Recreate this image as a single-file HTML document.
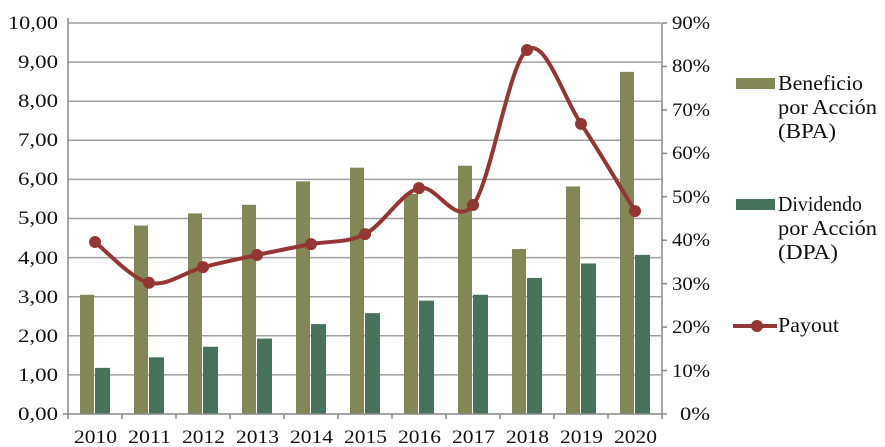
<!DOCTYPE html>
<html><head><meta charset="utf-8"><style>
html,body{margin:0;padding:0;background:#fff;}
svg{display:block;font-family:"Liberation Serif",serif;}
</style></head><body>
<svg width="885" height="447" viewBox="0 0 885 447">
<g stroke="#a0a0a0" stroke-width="1.5">
<line x1="68" y1="23" x2="661" y2="23"/><line x1="68" y1="62.1" x2="661" y2="62.1"/><line x1="68" y1="101.2" x2="661" y2="101.2"/><line x1="68" y1="140.3" x2="661" y2="140.3"/><line x1="68" y1="179.4" x2="661" y2="179.4"/><line x1="68" y1="218.5" x2="661" y2="218.5"/><line x1="68" y1="257.6" x2="661" y2="257.6"/><line x1="68" y1="296.7" x2="661" y2="296.7"/><line x1="68" y1="335.8" x2="661" y2="335.8"/><line x1="68" y1="374.9" x2="661" y2="374.9"/>
</g>
<g id="bars"></g>
<g stroke="#888" stroke-width="1.5" fill="none">
<line x1="68" y1="18" x2="68" y2="414"/><line x1="63" y1="414" x2="662" y2="414"/>
<line x1="662" y1="23" x2="662" y2="414"/>
</g>
<g id="ticks" stroke="#888" stroke-width="1.5"></g>
<path id="curve" fill="none" stroke="#943634" stroke-width="4"/>
<g id="dots" fill="#943634"></g>
<g font-size="19" fill="#111">
<text x="8" y="29" textLength="50" lengthAdjust="spacingAndGlyphs">10,00</text>
<text x="18" y="68" textLength="40" lengthAdjust="spacingAndGlyphs">9,00</text>
<text x="18" y="107" textLength="40" lengthAdjust="spacingAndGlyphs">8,00</text>
<text x="18" y="146" textLength="40" lengthAdjust="spacingAndGlyphs">7,00</text>
<text x="18" y="185" textLength="40" lengthAdjust="spacingAndGlyphs">6,00</text>
<text x="18" y="224" textLength="40" lengthAdjust="spacingAndGlyphs">5,00</text>
<text x="18" y="264" textLength="40" lengthAdjust="spacingAndGlyphs">4,00</text>
<text x="18" y="303" textLength="40" lengthAdjust="spacingAndGlyphs">3,00</text>
<text x="18" y="342" textLength="40" lengthAdjust="spacingAndGlyphs">2,00</text>
<text x="18" y="381" textLength="40" lengthAdjust="spacingAndGlyphs">1,00</text>
<text x="18" y="420" textLength="40" lengthAdjust="spacingAndGlyphs">0,00</text>
</g>
<g font-size="19" fill="#111">
<text x="672" y="29" textLength="38" lengthAdjust="spacingAndGlyphs">90%</text>
<text x="672" y="72" textLength="38" lengthAdjust="spacingAndGlyphs">80%</text>
<text x="672" y="116" textLength="38" lengthAdjust="spacingAndGlyphs">70%</text>
<text x="672" y="159" textLength="38" lengthAdjust="spacingAndGlyphs">60%</text>
<text x="672" y="203" textLength="38" lengthAdjust="spacingAndGlyphs">50%</text>
<text x="672" y="246" textLength="38" lengthAdjust="spacingAndGlyphs">40%</text>
<text x="672" y="290" textLength="38" lengthAdjust="spacingAndGlyphs">30%</text>
<text x="672" y="333" textLength="38" lengthAdjust="spacingAndGlyphs">20%</text>
<text x="672" y="377" textLength="38" lengthAdjust="spacingAndGlyphs">10%</text>
<text x="680" y="420" textLength="30" lengthAdjust="spacingAndGlyphs">0%</text>
</g>
<g font-size="19" fill="#111">
<text x="74" y="443" textLength="43" lengthAdjust="spacingAndGlyphs">2010</text>
<text x="128" y="443" textLength="43" lengthAdjust="spacingAndGlyphs">2011</text>
<text x="182" y="443" textLength="43" lengthAdjust="spacingAndGlyphs">2012</text>
<text x="236" y="443" textLength="43" lengthAdjust="spacingAndGlyphs">2013</text>
<text x="290" y="443" textLength="43" lengthAdjust="spacingAndGlyphs">2014</text>
<text x="344" y="443" textLength="43" lengthAdjust="spacingAndGlyphs">2015</text>
<text x="398" y="443" textLength="43" lengthAdjust="spacingAndGlyphs">2016</text>
<text x="452" y="443" textLength="43" lengthAdjust="spacingAndGlyphs">2017</text>
<text x="506" y="443" textLength="43" lengthAdjust="spacingAndGlyphs">2018</text>
<text x="560" y="443" textLength="43" lengthAdjust="spacingAndGlyphs">2019</text>
<text x="614" y="443" textLength="43" lengthAdjust="spacingAndGlyphs">2020</text>
</g>
<rect x="736" y="78" width="39" height="11" fill="#828755"/>
<rect x="736" y="199" width="39" height="11" fill="#47725c"/>
<line x1="733" y1="326" x2="777" y2="326" stroke="#943634" stroke-width="4"/>
<circle cx="757" cy="326" r="6" fill="#943634"/>
<g font-size="21" fill="#111">
<text x="778" y="90" textLength="85" lengthAdjust="spacingAndGlyphs">Beneficio</text>
<text x="778" y="114" textLength="99" lengthAdjust="spacingAndGlyphs">por Acción</text>
<text x="778" y="138" textLength="58" lengthAdjust="spacingAndGlyphs">(BPA)</text>
<text x="778" y="211" textLength="84" lengthAdjust="spacingAndGlyphs">Dividendo</text>
<text x="778" y="235" textLength="99" lengthAdjust="spacingAndGlyphs">por Acción</text>
<text x="778" y="259" textLength="60" lengthAdjust="spacingAndGlyphs">(DPA)</text>
<text x="778" y="332" textLength="61" lengthAdjust="spacingAndGlyphs">Payout</text>
</g>
</svg>
<script>
var ns="http://www.w3.org/2000/svg";
var bpa=[3.05,4.82,5.13,5.35,5.95,6.30,5.63,6.35,4.22,5.82,8.75];
var dpa=[1.18,1.45,1.72,1.93,2.30,2.58,2.90,3.05,3.48,3.85,4.07];
var pay=[39.6,30.2,33.8,36.6,39.1,41.4,52,48.1,83.8,66.8,46.7];
var W=54.0,y0=414,u=39.1,pu=4.344;
var bars=document.getElementById('bars'),ticks=document.getElementById('ticks'),dots=document.getElementById('dots');
function el(t,a,p){var e=document.createElementNS(ns,t);for(var k in a)e.setAttribute(k,a[k]);p.appendChild(e);return e;}
var pts=[];
for(var i=0;i<11;i++){var c=68+W*(i+0.5);
el('rect',{x:c-15,y:y0-bpa[i]*u,width:14,height:bpa[i]*u,fill:'#828755'},bars);
el('rect',{x:c,y:y0-dpa[i]*u,width:15,height:dpa[i]*u,fill:'#47725c'},bars);
pts.push([c,y0-pay[i]*pu]);}
for(var i=0;i<=11;i++){var x=68+W*i;el('line',{x1:x,y1:414,x2:x,y2:419},ticks);}
for(var j=0;j<=9;j++){var y=23+j*43.44;el('line',{x1:662,y1:y,x2:667,y2:y},ticks);}
var d="M"+pts[0][0]+","+pts[0][1];
for(var i=0;i<pts.length-1;i++){var p0=pts[Math.max(0,i-1)],p1=pts[i],p2=pts[i+1],p3=pts[Math.min(pts.length-1,i+2)];
var t=6;d+=" C"+(p1[0]+(p2[0]-p0[0])/t)+","+(p1[1]+(p2[1]-p0[1])/t)+" "+(p2[0]-(p3[0]-p1[0])/t)+","+(p2[1]-(p3[1]-p1[1])/t)+" "+p2[0]+","+p2[1];}
document.getElementById('curve').setAttribute('d',d);
pts.forEach(function(p){el('circle',{cx:p[0],cy:p[1],r:6},dots);});
</script>
</body></html>
